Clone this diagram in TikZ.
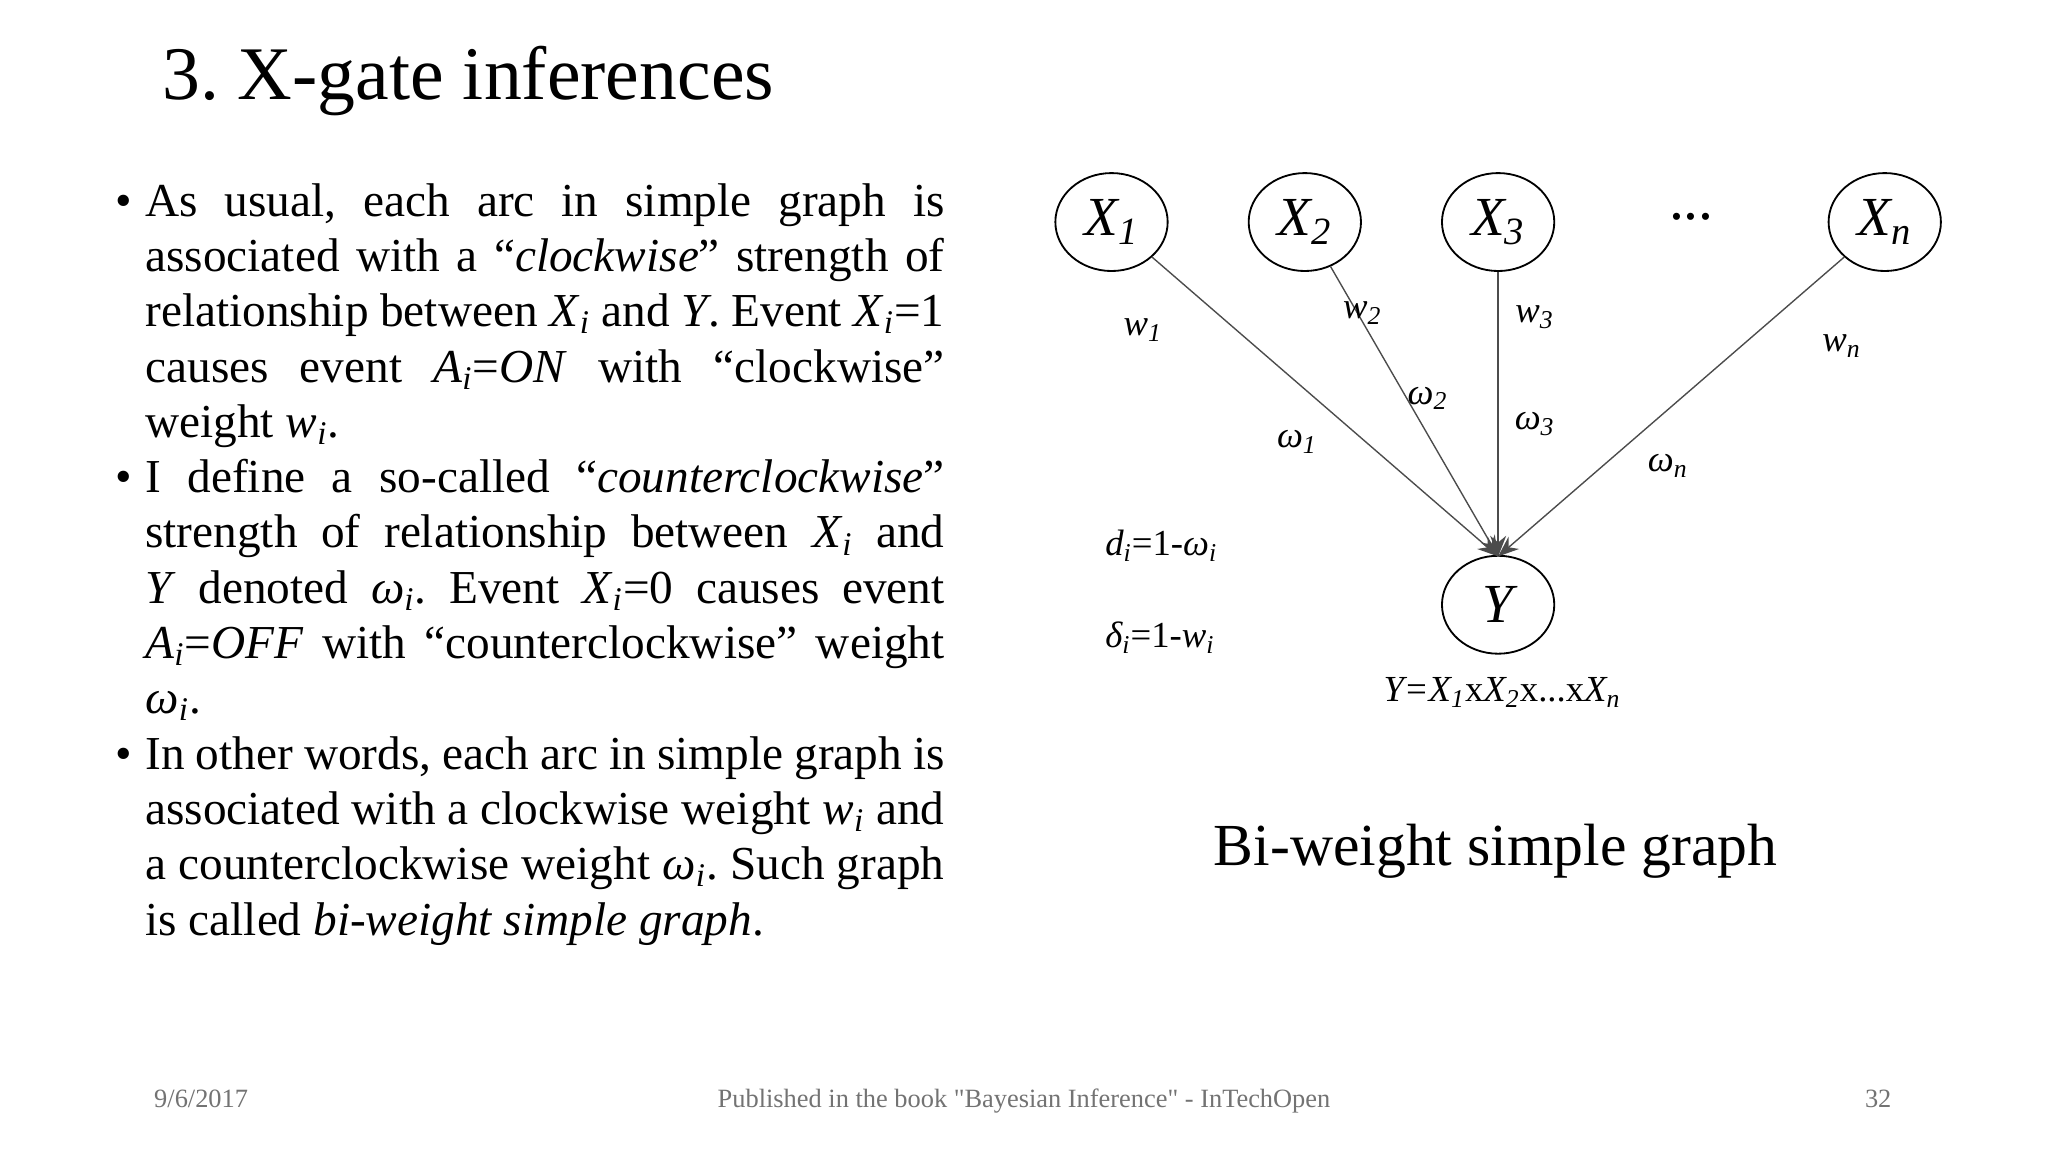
\documentclass[tikz,border=0pt]{standalone}
\usepackage{fontspec}
\setmainfont{Liberation Serif}
\usetikzlibrary{shapes.geometric,arrows.meta}
\tikzset{
  vnode/.style={draw,thick,ellipse,minimum width=1.72cm,minimum height=1.5cm,inner sep=0pt,font=\fontsize{24}{24}\selectfont\itshape},
  arc/.style={draw=black!70,semithick,-{Stealth[length=9pt,width=7pt]}},
  lab/.style={font=\fontsize{16}{16}\selectfont\itshape},
  foot/.style={anchor=base,font=\fontsize{11.5}{12}\selectfont,text=black!55},
}
\newcommand{\bul}{\noindent\hangindent=0.46cm\hangafter=1\makebox[0.46cm][l]{\textbullet}}
\newcommand{\vs}[2]{\textit{#1}\textsubscript{\textit{#2}}}
\begin{document}
\frenchspacing
\begin{tikzpicture}[x={(0.02cm,0)},y={(0,-0.02cm)}]
\useasboundingbox[fill=white] (0,0) rectangle (1568,882);
\node[anchor=west,font=\fontsize{33}{33}\selectfont] (title) at (118,62) {3. X-gate inferences};
\node[anchor=north west,inner sep=0pt,text width=12.7cm,align=justify,font=\fontsize{20.6}{24.1}\selectfont] (body) at (88,140) {\hyphenpenalty=10000\exhyphenpenalty=0%
\bul As usual, each arc in simple graph is associated with a “\textit{clockwise}” strength of relationship between \vs{X}{i} and \textit{Y}. Event \vs{X}{i}=1 causes event \vs{A}{i}=\textit{ON} with “clockwise” weight \vs{w}{i}.\par
\bul I define a so-called “\textit{counterclockwise}” strength of relationship between \vs{X}{i} and \textit{Y} denoted \vs{ω}{i}. Event \vs{X}{i}=0 causes event \vs{A}{i}=\textit{OFF} with “counterclockwise” weight \vs{ω}{i}.\par
\bul In other words, each arc in simple graph is associated with a clockwise weight \vs{w}{i} and a counterclockwise weight \vs{ω}{i}. Such graph is called \textit{bi-weight simple graph}.\par};
\node[vnode] (x1) at (851,170) {X\textsubscript{1}};
\node[vnode] (x2) at (999,170) {X\textsubscript{2}};
\node[vnode] (x3) at (1147,170) {X\textsubscript{3}};
\node[vnode] (xn) at (1443,170) {X\textsubscript{\itshape n}};
\node[font=\fontsize{26}{26}\selectfont] (dots) at (1295,166) {...};
\node[vnode] (y) at (1147,463) {Y};
\coordinate (yt) at (1147,426);
\draw[arc] (x1) -- (yt);
\draw[arc] (x2) -- (yt);
\draw[arc] (x3) -- (yt);
\draw[arc] (xn) -- (yt);
\node[lab] (w1) at (875,253) {w\textsubscript{1}};
\node[lab] (o1) at (993,338) {ω\textsubscript{1}};
\node[lab] (w2) at (1043,240) {w\textsubscript{2}};
\node[lab] (o2) at (1093,305) {ω\textsubscript{2}};
\node[lab] (w3) at (1175,243) {w\textsubscript{3}};
\node[lab] (o3) at (1175,325) {ω\textsubscript{3}};
\node[lab] (wn) at (1410,265) {w\textsubscript{n}};
\node[lab] (on) at (1277,357) {ω\textsubscript{n}};
\node[lab,anchor=west] (d) at (840,418) {d\textsubscript{i}\upshape=1-\itshape ω\textsubscript{i}};
\node[lab,anchor=west] (del) at (840,488) {δ\textsubscript{i}\upshape=1-\itshape w\textsubscript{i}};
\node[lab] (eq) at (1150,530) {Y=X\textsubscript{1}\upshape x\itshape X\textsubscript{2}\upshape x...x\itshape X\textsubscript{n}};
\node[font=\fontsize{26}{26}\selectfont] (cap) at (1145,652) {Bi-weight simple graph};
\node[foot] (date) at (154,848) {9/6/2017};
\node[foot] (pub) at (784,848) {Published in the book \textquotedbl Bayesian Inference\textquotedbl\ - InTechOpen};
\node[foot] (pg) at (1438,848) {32};
\end{tikzpicture}
\end{document}
